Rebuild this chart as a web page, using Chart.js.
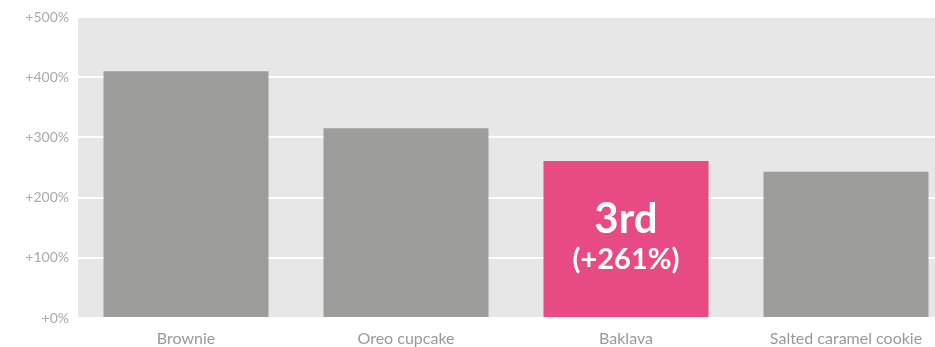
<!DOCTYPE html>
<html>
<head>
<meta charset="utf-8">
<script src="https://cdn.jsdelivr.net/npm/chart.js@4"></script>
<style>
  html, body { margin: 0; padding: 0; background: #fff; overflow: hidden; }
  /* the source chart is cropped on the right, so the canvas runs past the window */
  #wrap { width: 956px; height: 347px; position: relative; }
</style>
</head>
<body>
<div id="wrap"><canvas id="chart"></canvas></div>
<script>
const categories = ['Brownie', 'Oreo cupcake', 'Baklava', 'Salted caramel cookie'];
const growth = [410, 315, 261, 243]; // % increase
const highlightIndex = 2;
const highlightRank = '3rd';

const GREY = '#9d9d9b';
const PINK = '#e84a83';

// grey panel behind the plot area
const panelBg = {
  id: 'panelBg',
  beforeDraw(chart) {
    const { ctx, chartArea: a } = chart;
    ctx.save();
    ctx.fillStyle = '#e7e7e7';
    ctx.fillRect(a.left + 2, a.top, a.right - a.left - 2, a.bottom - a.top);
    ctx.restore();
  }
};

// rank label inside the highlighted bar
const rankLabel = {
  id: 'rankLabel',
  afterDatasetsDraw(chart) {
    const bar = chart.getDatasetMeta(0).data[highlightIndex];
    if (!bar) return;
    const { ctx } = chart;
    const mid = (bar.y + bar.base) / 2;
    ctx.save();
    ctx.fillStyle = '#fff';
    ctx.textAlign = 'center';
    ctx.textBaseline = 'middle';
    ctx.font = 'bold 42px Lato';
    ctx.fillText(highlightRank, bar.x, mid - 19);
    ctx.font = 'bold 29px Lato';
    ctx.fillText('(+' + growth[highlightIndex] + '%)', bar.x, mid + 21);
    ctx.restore();
  }
};

new Chart(document.getElementById('chart'), {
  type: 'bar',
  data: {
    labels: categories,
    datasets: [{
      data: growth,
      backgroundColor: growth.map((v, i) => i === highlightIndex ? PINK : GREY),
      barPercentage: 0.75,
      categoryPercentage: 1
    }]
  },
  options: {
    responsive: true,
    maintainAspectRatio: false,
    animation: false,
    layout: { padding: { top: 17, right: 0, bottom: 0, left: 0 } },
    plugins: { legend: { display: false }, tooltip: { enabled: false } },
    scales: {
      x: {
        grid: { display: false, drawTicks: false },
        border: { display: false },
        afterFit(s) { s.height = 29; },
        ticks: { color: '#999', font: { family: 'Lato', size: 16 }, padding: 11 }
      },
      y: {
        min: 0, max: 500,
        afterFit(s) { s.width = 76; },
        grid: { color: '#fff', lineWidth: 2, drawTicks: false },
        border: { display: false },
        ticks: {
          stepSize: 100,
          padding: 7,
          color: '#aaa',
          font: { family: 'Lato', size: 14 },
          callback: v => '+' + v + '%'
        }
      }
    }
  },
  plugins: [panelBg, rankLabel]
});
</script>
</body>
</html>
